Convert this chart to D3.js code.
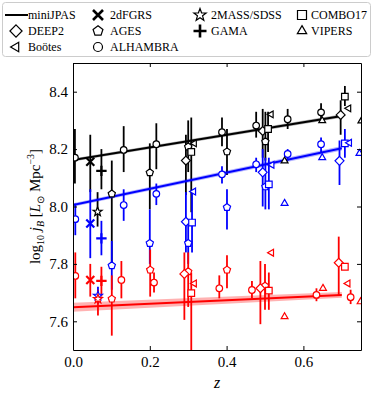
<!DOCTYPE html>
<meta charset="utf-8">
<style>
  body { margin: 0; background: #fff; }
  svg text { font-family: "Liberation Serif", "Times New Roman", serif; fill: #000; }
  .axis text { font-size: 15px; }
  .axis path, .axis line { stroke: #000; }
  .legend text { font-size: 12px; }
</style>
<body>
<script src="https://d3js.org/d3.v7.min.js"></script>
<script>

// surveys with their marker
var surveys = ["2dFGRS", "2MASS/SDSS", "COMBO17", "DEEP2", "AGES", "GAMA", "VIPERS", "Boötes", "ALHAMBRA"];
var markers = { "2dFGRS": "x", "2MASS/SDSS": "star", "COMBO17": "square", "DEEP2": "diamond",
  "AGES": "pentagon", "GAMA": "plus", "VIPERS": "triangle", "Boötes": "tleft", "ALHAMBRA": "circle" };

// points: [survey, z, log10 jB, lower, upper]  (null = no error bar)
var totalPts = [
  ["ALHAMBRA", 0.005, 8.170, 8.08, 8.27], ["ALHAMBRA", 0.132, 8.197, 8.12, 8.28],
  ["ALHAMBRA", 0.217, 8.217, 8.13, 8.29], ["ALHAMBRA", 0.388, 8.259, 8.21, 8.31],
  ["ALHAMBRA", 0.477, 8.282, 8.24, 8.33], ["ALHAMBRA", 0.559, 8.304, 8.27, 8.34],
  ["ALHAMBRA", 0.646, 8.328, 8.30, 8.36],
  ["2dFGRS", 0.045, 8.156, 8.05, 8.25],
  ["GAMA", 0.074, 8.124, 8.06, 8.20],
  ["2MASS/SDSS", 0.064, 7.982, 7.93, 8.05],
  ["AGES", 0.101, 8.044, 7.80, 8.16], ["AGES", 0.200, 8.118, 7.99, 8.22],
  ["AGES", 0.300, 8.208, 8.12, 8.30], ["AGES", 0.401, 8.191, 8.11, 8.27],
  ["AGES", 0.501, 8.226, 8.16, 8.33],
  ["DEEP2", 0.294, 8.160, 8.04, 8.25], ["DEEP2", 0.494, 8.263, 8.17, 8.34],
  ["DEEP2", 0.697, 8.319, 8.25, 8.37],
  ["COMBO17", 0.308, 8.190, 7.98, 8.31], ["COMBO17", 0.508, 8.270, 8.19, 8.33],
  ["COMBO17", 0.708, 8.383, 8.35, 8.42],
  ["Boötes", 0.316, 8.220, null, null], ["Boötes", 0.516, 8.321, null, null],
  ["Boötes", 0.718, 8.342, null, null],
  ["VIPERS", 0.551, 8.159, null, null], ["VIPERS", 0.649, 8.299, null, null],
  ["VIPERS", 0.751, 8.298, null, null]
];

var bluePts = [
  ["ALHAMBRA", 0.006, 7.956, 7.90, 8.01], ["ALHAMBRA", 0.132, 8.005, 7.95, 8.06],
  ["ALHAMBRA", 0.217, 8.044, 8.005, 8.08], ["ALHAMBRA", 0.388, 8.112, 8.08, 8.14],
  ["ALHAMBRA", 0.477, 8.147, 8.12, 8.17], ["ALHAMBRA", 0.559, 8.183, 8.16, 8.20],
  ["ALHAMBRA", 0.646, 8.217, 8.19, 8.24],
  ["2dFGRS", 0.045, 7.941, 7.82, 8.06],
  ["GAMA", 0.074, 7.889, 7.83, 7.95],
  ["2MASS/SDSS", 0.065, 7.689, 7.66, 7.72],
  ["AGES", 0.101, 7.794, 7.71, 7.88], ["AGES", 0.200, 7.872, 7.80, 7.99],
  ["AGES", 0.300, 7.872, 7.80, 7.95], ["AGES", 0.401, 7.997, 7.92, 8.06],
  ["AGES", 0.501, 8.069, 7.99, 8.17],
  ["DEEP2", 0.294, 7.947, 7.84, 8.05], ["DEEP2", 0.494, 8.119, 8.00, 8.20],
  ["DEEP2", 0.694, 8.159, 8.075, 8.23],
  ["COMBO17", 0.310, 7.944, 7.84, 8.05], ["COMBO17", 0.510, 8.077, 7.99, 8.17],
  ["COMBO17", 0.708, 8.220, 8.17, 8.27],
  ["Boötes", 0.314, 8.052, null, null], ["Boötes", 0.518, 8.145, null, null],
  ["Boötes", 0.720, 8.222, null, null],
  ["VIPERS", 0.551, 8.011, null, null], ["VIPERS", 0.649, 8.170, null, null],
  ["VIPERS", 0.746, 8.185, null, null]
];

var redPts = [
  ["ALHAMBRA", 0.006, 7.758, 7.68, 7.84], ["ALHAMBRA", 0.126, 7.744, 7.68, 7.81],
  ["ALHAMBRA", 0.211, 7.735, 7.70, 7.77], ["ALHAMBRA", 0.381, 7.715, 7.68, 7.76],
  ["ALHAMBRA", 0.466, 7.709, 7.68, 7.74], ["ALHAMBRA", 0.634, 7.692, 7.67, 7.715],
  ["ALHAMBRA", 0.723, 7.684, 7.66, 7.71],
  ["2dFGRS", 0.045, 7.744, 7.686, 7.80],
  ["GAMA", 0.074, 7.741, 7.686, 7.79],
  ["2MASS/SDSS", 0.065, 7.678, 7.62, 7.71],
  ["AGES", 0.101, 7.678, 7.55, 7.76], ["AGES", 0.201, 7.779, 7.686, 7.85],
  ["AGES", 0.300, 7.773, 7.65, 7.84], ["AGES", 0.401, 7.779, 7.715, 7.83],
  ["AGES", 0.500, 7.723, 7.64, 7.80],
  ["DEEP2", 0.290, 7.765, 7.605, 7.84], ["DEEP2", 0.488, 7.715, 7.59, 7.81],
  ["DEEP2", 0.692, 7.804, 7.69, 7.895],
  ["COMBO17", 0.308, 7.698, 7.45, 7.77], ["COMBO17", 0.510, 7.707, 7.64, 7.77],
  ["COMBO17", 0.708, 7.790, null, null],
  ["Boötes", 0.316, 7.732, null, null], ["Boötes", 0.517, 7.839, null, null],
  ["Boötes", 0.716, 7.732, null, null],
  ["VIPERS", 0.551, 7.616, null, null], ["VIPERS", 0.651, 7.715, null, null],
  ["VIPERS", 0.749, 7.668, null, null]
];

// miniJPAS linear fits: value and band half width at the two ends
var fitZ = [0, 0.70];
var fitTotal = [8.162, 8.315], bandTotal = [0.005, 0.006];
var fitBlue = [8.005, 8.203], bandBlue = [0.006, 0.008];
var fitRed = [7.649, 7.692], bandRed = [0.016, 0.010];

var xTicks = [0.0, 0.2, 0.4, 0.6];
var yTicks = [7.6, 7.8, 8.0, 8.2, 8.4];

// legend, filled column by column as matplotlib does
var legendNames = ["miniJPAS", "DEEP2", "Boötes", "2dFGRS", "AGES", "ALHAMBRA", "2MASS/SDSS", "GAMA", "COMBO17", "VIPERS"];

var W = 373, H = 400;
var margin = { top: 63, right: 12, bottom: 50, left: 73 };
var serif = "'Liberation Serif', 'Times New Roman', serif";

var svg = d3.select("body").append("svg")
  .attr("width", W).attr("height", H);

var x = d3.scaleLinear().domain([0, 0.75]).range([margin.left, W - margin.right]);
var y = d3.scaleLinear().domain([7.5, 8.5]).range([H - margin.bottom, margin.top]);

// marker shapes centred on 0,0
function poly(n, r, rot) {
  return "M" + d3.range(n).map(function (i) {
    var a = rot + i * 2 * Math.PI / n;
    return [r * Math.cos(a), r * Math.sin(a)].join(",");
  }).join("L") + "Z";
}
function markerPath(type, s) {
  switch (type) {
    case "circle": return "M" + s + ",0A" + s + "," + s + " 0 1,1 " + (-s) + ",0A" + s + "," + s + " 0 1,1 " + s + ",0Z";
    case "square": return "M" + (-s) + "," + (-s) + "h" + 2 * s + "v" + 2 * s + "h" + (-2 * s) + "Z";
    case "diamond": return poly(4, s * 1.35, -Math.PI / 2);
    case "pentagon": return poly(5, s * 1.15, -Math.PI / 2);
    case "triangle": return poly(3, s * 1.2, -Math.PI / 2);
    case "tleft": return poly(3, s * 1.2, Math.PI);
    case "star": return "M" + d3.range(10).map(function (i) {
        var a = -Math.PI / 2 + i * Math.PI / 5, r = i % 2 ? s * 0.6 : s * 1.45;
        return [r * Math.cos(a), r * Math.sin(a)].join(",");
      }).join("L") + "Z";
    case "x": return "M" + (-s) + "," + (-s) + "L" + s + "," + s + "M" + (-s) + "," + s + "L" + s + "," + (-s);
    case "plus": return "M" + (-s * 1.3) + ",0H" + s * 1.3 + "M0," + (-s * 1.3) + "V" + s * 1.3;
  }
}
var lineOnly = { x: true, plus: true };

var plot = svg.append("g");
plot.append("clipPath").attr("id", "clip")
  .append("rect")
  .attr("x", x(0)).attr("y", y(8.5))
  .attr("width", x(0.75) - x(0)).attr("height", y(7.5) - y(8.5));

var series = [
  { pts: totalPts, fit: fitTotal, band: bandTotal, color: "#000", bandColor: "rgba(0,0,0,0.3)" },
  { pts: bluePts, fit: fitBlue, band: bandBlue, color: "#0000ff", bandColor: "rgba(0,0,255,0.3)" },
  { pts: redPts, fit: fitRed, band: bandRed, color: "#ff0000", bandColor: "rgba(255,0,0,0.3)" }
];

var inner = plot.append("g").attr("clip-path", "url(#clip)");

series.forEach(function (s) {
  var g = inner.append("g");
  // error bars
  g.selectAll(".err")
    .data(s.pts.filter(function (d) { return d[3] !== null; }))
    .enter().append("line")
    .attr("x1", function (d) { return x(d[1]); })
    .attr("x2", function (d) { return x(d[1]); })
    .attr("y1", function (d) { return y(d[3]); })
    .attr("y2", function (d) { return y(d[4]); })
    .attr("stroke", s.color)
    .attr("stroke-width", 1.8);

  // fit band and line
  var bandData = fitZ.map(function (z, i) { return [z, s.fit[i] - s.band[i], s.fit[i] + s.band[i]]; });
  g.append("path")
    .datum(bandData)
    .attr("fill", s.bandColor)
    .attr("d", d3.area()
      .x(function (d) { return x(d[0]); })
      .y0(function (d) { return y(d[1]); })
      .y1(function (d) { return y(d[2]); }));
  g.append("path")
    .datum(fitZ.map(function (z, i) { return [z, s.fit[i]]; }))
    .attr("fill", "none")
    .attr("stroke", s.color)
    .attr("stroke-width", 2)
    .attr("d", d3.line()
      .x(function (d) { return x(d[0]); })
      .y(function (d) { return y(d[1]); }));
});

// markers on top
series.forEach(function (s) {
  inner.append("g").selectAll("path")
    .data(s.pts)
    .enter().append("path")
    .attr("transform", function (d) { return "translate(" + x(d[1]) + "," + y(d[2]) + ")"; })
    .attr("d", function (d) {
      var m = markers[d[0]];
      return markerPath(m, lineOnly[m] ? 4 : 3.3);
    })
    .attr("fill", function (d) { return lineOnly[markers[d[0]]] ? "none" : "#fff"; })
    .attr("stroke", s.color)
    .attr("stroke-width", function (d) { return lineOnly[markers[d[0]]] ? 2.2 : 1.2; });
});

// axes, ticks inward on all four sides
function styleAxis(g) {
  g.attr("font-family", serif).attr("font-size", 15);
  g.select(".domain").attr("stroke-width", 1);
}
plot.append("g").attr("class", "axis")
  .attr("transform", "translate(0," + y(7.5) + ")")
  .call(d3.axisBottom(x).tickValues(xTicks).tickFormat(d3.format(".1f"))
    .tickSizeInner(-4).tickSizeOuter(0).tickPadding(6))
  .call(styleAxis);
plot.append("g").attr("class", "axis")
  .attr("transform", "translate(0," + y(8.5) + ")")
  .call(d3.axisTop(x).tickValues(xTicks).tickFormat("")
    .tickSizeInner(-4).tickSizeOuter(0))
  .call(styleAxis);
plot.append("g").attr("class", "axis")
  .attr("transform", "translate(" + x(0) + ",0)")
  .call(d3.axisLeft(y).tickValues(yTicks).tickFormat(d3.format(".1f"))
    .tickSizeInner(-4).tickSizeOuter(0).tickPadding(5))
  .call(styleAxis);
plot.append("g").attr("class", "axis")
  .attr("transform", "translate(" + x(0.75) + ",0)")
  .call(d3.axisRight(y).tickValues(yTicks).tickFormat("")
    .tickSizeInner(-4).tickSizeOuter(0))
  .call(styleAxis);

// axis labels
svg.append("text")
  .attr("x", (x(0) + x(0.75)) / 2).attr("y", 388)
  .attr("text-anchor", "middle")
  .style("font-size", "16px").style("font-style", "italic")
  .text("z");

var yl = svg.append("text")
  .attr("transform", "translate(40," + (y(7.5) + y(8.5)) / 2 + ") rotate(-90)")
  .attr("text-anchor", "middle")
  .style("font-size", "15px");
yl.append("tspan").text("log");
yl.append("tspan").attr("dy", 4).style("font-size", "10px").text("10");
yl.append("tspan").attr("dy", -4).text(" ");
yl.append("tspan").style("font-style", "italic").text("j");
yl.append("tspan").attr("dy", 4).style("font-size", "10px").style("font-style", "italic").text("B");
yl.append("tspan").attr("dy", -4).text(" [");
yl.append("tspan").style("font-style", "italic").text("L");
yl.append("tspan").attr("dy", 4).style("font-size", "10px").text("⊙");
yl.append("tspan").attr("dy", -4).text(" Mpc");
yl.append("tspan").attr("dy", -6).style("font-size", "10px").text("−3");
yl.append("tspan").attr("dy", 6).text("]");

// legend
var leg = svg.append("g").attr("class", "legend");
leg.append("rect")
  .attr("x", 2.5).attr("y", 2.5).attr("width", 368).attr("height", 54)
  .attr("rx", 3).attr("fill", "#fff").attr("stroke", "#cccccc");

var legMarkX = [16, 98, 200, 302];
var legTextX = [28, 110, 211, 311];
var legRows = [15, 31, 47];
var colSizes = [3, 3, 2, 2];

var k = 0;
colSizes.forEach(function (n, c) {
  for (var r = 0; r < n; r++, k++) {
    var name = legendNames[k];
    var g = leg.append("g").attr("transform", "translate(0," + legRows[r] + ")");
    if (name === "miniJPAS") {
      g.append("line").attr("x1", 5).attr("x2", 28).attr("stroke", "#000").attr("stroke-width", 2);
    } else {
      var m = markers[name];
      g.append("path")
        .attr("transform", "translate(" + legMarkX[c] + ",0)")
        .attr("d", markerPath(m, lineOnly[m] ? 5 : 4.5))
        .attr("fill", lineOnly[m] ? "none" : "#fff")
        .attr("stroke", "#000")
        .attr("stroke-width", lineOnly[m] ? 2.6 : 1.2);
    }
    g.append("text").attr("x", legTextX[c] + (name === "miniJPAS" ? 0 : 0)).attr("dy", "0.35em").text(name);
  }
});

</script>
</body>
